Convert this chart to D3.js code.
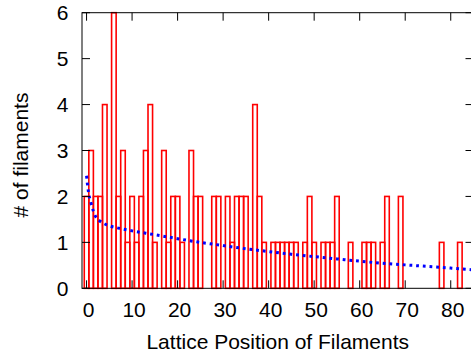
<!DOCTYPE html>
<html>
<head>
<meta charset="utf-8">
<script src="https://cdn.jsdelivr.net/npm/d3@7"></script>
<style>
  html, body { margin: 0; padding: 0; background: #fff; }
  svg { display: block; }
  text { font-family: "Liberation Sans", Arial, Helvetica, sans-serif; fill: #000; }
</style>
</head>
<body>
<script>
// ---- data ----
const positions = d3.range(0, 85); // lattice positions 0..84
const counts = [
  2, 3, 2, 2, 4, 0, 6, 2, 3, 1,
  2, 1, 2, 3, 4, 1, 0, 3, 1, 2,
  2, 1, 0, 3, 2, 2, 0, 0, 2, 2,
  0, 2, 1, 2, 2, 2, 0, 4, 2, 1,
  0, 1, 1, 1, 1, 1, 1, 0, 1, 2,
  1, 0, 1, 1, 1, 2, 0, 0, 1, 0,
  0, 1, 1, 1, 0, 1, 2, 0, 0, 2,
  0, 0, 0, 0, 0, 0, 0, 0, 1, 0,
  0, 0, 1, 0, 0
];
const fitX = [0, 0.25, 0.5, 1, 1.5, 2, 3, 4, 5, 7, 10, 13, 16, 20, 25, 30, 35, 40, 45, 50, 55, 60, 65, 70, 75, 80, 85];
const fitY = [2.45, 2.22, 2.05, 1.85, 1.68, 1.56, 1.46, 1.40, 1.36, 1.31, 1.25, 1.20, 1.15, 1.08, 1.00, 0.93, 0.86, 0.80, 0.74, 0.69, 0.64, 0.59, 0.545, 0.51, 0.475, 0.44, 0.40];
const xTicks = [0, 10, 20, 30, 40, 50, 60, 70, 80];
const yTicks = [0, 1, 2, 3, 4, 5, 6];
const xLabel = "Lattice Position of Filaments";
const yLabel = "# of filaments";

// ---- layout ----
const W = 471, H = 356;
const L = 82, R = 473.5, T = 12.7, B = 288.3;
const FS = 21;

const svg = d3.select("body").append("svg")
  .attr("width", W).attr("height", H);

const x = d3.scaleLinear().domain([-1, 85]).range([L, R]);
const y = d3.scaleLinear().domain([0, 6]).range([B, T]);

svg.append("defs").append("clipPath").attr("id", "plotclip")
  .append("rect").attr("x", L).attr("y", T - 2).attr("width", R - L).attr("height", B - T + 4);

const plot = svg.append("g").attr("clip-path", "url(#plotclip)");

// boxes
plot.selectAll("rect.box").data(positions.filter((p, i) => counts[i] > 0))
  .enter().append("rect")
  .attr("class", "box")
  .attr("x", p => x(p - 0.5))
  .attr("width", p => x(p + 0.5) - x(p - 0.5))
  .attr("y", p => y(counts[p]))
  .attr("height", p => y(0) - y(counts[p]))
  .attr("fill", "none")
  .attr("stroke", "#ff0000")
  .attr("stroke-width", 1.6);

// fitted dotted line
const line = d3.line().x((d, i) => x(fitX[i])).y((d, i) => y(fitY[i])).curve(d3.curveMonotoneX);
plot.append("path")
  .attr("d", line(fitX))
  .attr("fill", "none")
  .attr("stroke", "#0000ff")
  .attr("stroke-width", 3)
  .attr("stroke-dasharray", "2.8,3.9");

// frame
svg.append("rect")
  .attr("x", L).attr("y", T).attr("width", R - L).attr("height", B - T)
  .attr("fill", "none").attr("stroke", "#000").attr("stroke-width", 1);

// inward ticks on all four sides
const tickLen = 8;
const g = svg.append("g");
xTicks.forEach(t => {
  g.append("line").attr("x1", x(t)).attr("x2", x(t)).attr("y1", B).attr("y2", B - tickLen).attr("stroke", "#000");
  g.append("line").attr("x1", x(t)).attr("x2", x(t)).attr("y1", T).attr("y2", T + tickLen).attr("stroke", "#000");
});
yTicks.forEach(t => {
  g.append("line").attr("x1", L).attr("x2", L + tickLen).attr("y1", y(t)).attr("y2", y(t)).attr("stroke", "#000");
  g.append("line").attr("x1", R).attr("x2", R - tickLen).attr("y1", y(t)).attr("y2", y(t)).attr("stroke", "#000");
});

// tick labels
svg.append("g").selectAll("text").data(xTicks).enter().append("text")
  .attr("x", d => x(d) + 2).attr("y", 317)
  .attr("text-anchor", "middle").attr("font-size", FS)
  .text(d => d);
svg.append("g").selectAll("text").data(yTicks).enter().append("text")
  .attr("x", 68.5).attr("y", d => y(d) + 7.5)
  .attr("text-anchor", "end").attr("font-size", FS)
  .text(d => d);

// axis titles
svg.append("text").attr("x", (L + R) / 2).attr("y", 349)
  .attr("text-anchor", "middle").attr("font-size", FS).text(xLabel);
svg.append("text")
  .attr("transform", `translate(28,155) rotate(-90)`)
  .attr("text-anchor", "middle").attr("font-size", FS).text(yLabel);
</script>
</body>
</html>
